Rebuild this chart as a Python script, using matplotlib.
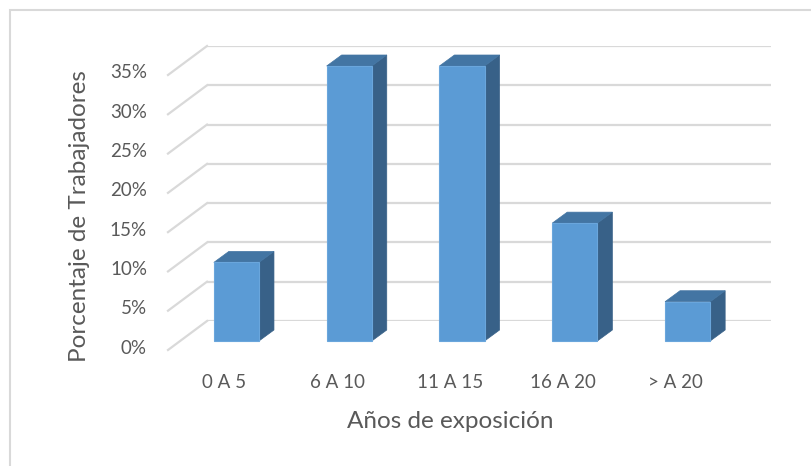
import numpy as np
import matplotlib
matplotlib.use("Agg")
import matplotlib.pyplot as plt
from matplotlib.patches import Polygon, Rectangle
from matplotlib.lines import Line2D
from matplotlib.transforms import IdentityTransform

plt.rcParams['font.family'] = ['Lato', 'DejaVu Sans']

categorias = ["0 A 5", "6 A 10", "11 A 15", "16 A 20", "> A 20"]
porcentajes = [10, 35, 35, 15, 5]
ticks = [0, 5, 10, 15, 20, 25, 30, 35]
tick_labels = ["0%", "5%", "10%", "15%", "20%", "25%", "30%", "35%"]

W, H = 811, 466
fig = plt.figure(figsize=(W / 100, H / 100), dpi=100)
fig.patch.set_facecolor("white")

# back wall of the 3D plot area
ax = fig.add_axes([207 / W, (H - 321) / H, 564 / W, 275 / H])
ax.set_xlim(-0.5, len(categorias) - 0.5)
ax.set_ylim(0, 35)
ax.axis("off")

grid_col = "#d9d9d9"
text_col = "#595959"
front_col = "#5b9bd5"
top_col = "#4375a3"
side_col = "#386188"

# depth offsets in pixels (display coords, y up)
wall = np.array([-39.0, -29.0])      # back wall -> front edge of floor
bar_front = np.array([-27.0, -20.0])
bar_back = np.array([-12.0, -9.0])
half_w = 0.2

idt = IdentityTransform()


def px(x, y, off=(0, 0)):
    return ax.transData.transform((x, y)) + np.asarray(off)


# gridlines: back wall + left side wall
for t, lab in zip(ticks, tick_labels):
    ax.axhline(t, color=grid_col, lw=1.6, zorder=1)
    p0 = px(-0.5, t)
    p1 = px(-0.5, t, wall)
    fig.add_artist(Line2D([p0[0], p1[0]], [p0[1], p1[1]], transform=idt,
                          color=grid_col, lw=1.6))
    fig.text(p1[0] - 21, p1[1] + 2, lab, transform=idt, ha="right", va="center",
             fontsize=13.5, color=text_col)

# bars
for i, v in enumerate(porcentajes):
    x0, x1 = i - half_w, i + half_w
    fl, fr = px(x0, 0, bar_front), px(x1, 0, bar_front)
    tl, tr = px(x0, v, bar_front), px(x1, v, bar_front)
    btl, btr = px(x0, v, bar_back), px(x1, v, bar_back)
    bbr = px(x1, 0, bar_back)
    side = Polygon([fr, tr, btr, bbr], closed=True, transform=idt,
                   facecolor=side_col, edgecolor=side_col, lw=0.5)
    top = Polygon([tl, tr, btr, btl], closed=True, transform=idt,
                  facecolor=top_col, edgecolor=top_col, lw=0.5)
    front = Polygon([fl, fr, tr, tl], closed=True, transform=idt,
                    facecolor=front_col, edgecolor="#6aa6dc", lw=0.8)
    for p in (side, top, front):
        fig.add_artist(p)

    # category label at the front edge of the floor
    c = px(i, 0, wall)
    fig.text(c[0], H - 383, categorias[i], transform=idt, ha="center",
             va="center", fontsize=13.5, color=text_col)

fig.text(450, H - 421, "Años de exposición", transform=idt, ha="center",
         va="center", fontsize=17.5, color=text_col)
fig.text(80, H - 216, "Porcentaje de Trabajadores", transform=idt,
         ha="center", va="center", rotation=90, fontsize=17.5, color=text_col)

# chart border
fig.add_artist(Rectangle((10, -10), W + 10, H - 10 + 10, transform=idt,
                         fill=False, edgecolor=grid_col, lw=1.5))

fig.savefig("out.png", dpi=100)
